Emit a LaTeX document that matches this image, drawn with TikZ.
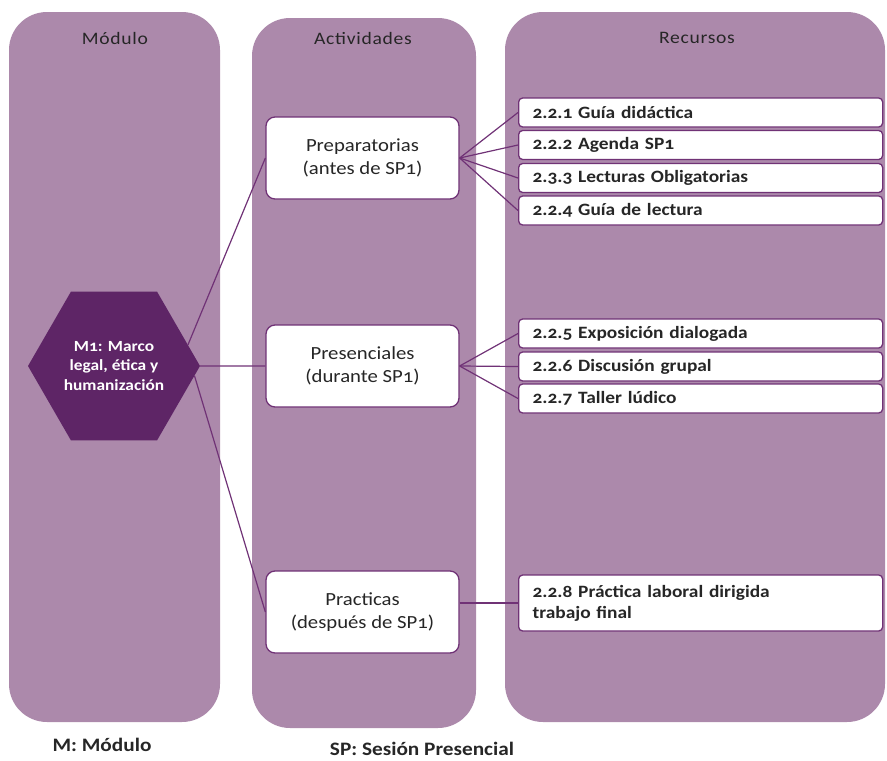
\documentclass[tikz,border=0pt]{standalone}
\usepackage{fontspec}
\setmainfont{Carlito}[Numbers=OldStyle, FakeStretch=1.12]
\usetikzlibrary{shapes.geometric}
\definecolor{colfill}{RGB}{172,137,171}
\definecolor{hexfill}{RGB}{94,37,102}
\definecolor{edgecol}{RGB}{112,50,118}
\tikzset{
  colbox/.style={fill=colfill, draw=none, rounded corners=38pt, inner sep=0pt},
  hdr/.style={font=\fontsize{17.5}{20}\selectfont\addfontfeature{LetterSpace=4}, text=black!85},
  actbox/.style={draw=edgecol, line width=1.3pt, fill=white, rounded corners=9pt,
    minimum width=193pt, minimum height=82pt, align=center, inner sep=2pt,
    font=\fontsize{18.5}{23}\selectfont, text=black!85},
  resbox/.style={draw=edgecol, line width=1.3pt, fill=white, rounded corners=4pt,
    anchor=west, minimum height=29pt, text width=336pt, inner xsep=14pt, inner ysep=2pt,
    align=left, font=\bfseries\fontsize{17.3}{21}\selectfont, text=black!85},
  hexnode/.style={regular polygon, regular polygon sides=6, minimum size=172pt,
    fill=hexfill, text=white, align=center, inner sep=0pt,
    font=\bfseries\fontsize{15.5}{19.5}\selectfont},
  conn/.style={draw=edgecol, line width=1.2pt},
  foot/.style={font=\bfseries\fontsize{19}{22}\selectfont, text=black!85}
}
\begin{document}
\begin{tikzpicture}[x=1pt,y=-1pt]
\path[use as bounding box] (0,0) rectangle (887,761);
% columns
\node[colbox, minimum width=211pt, minimum height=710pt] (c1) at (114.5,367) {};
\node[colbox, minimum width=224pt, minimum height=710pt] (c2) at (364,373) {};
\node[colbox, minimum width=380pt, minimum height=710pt] (c3) at (695,367) {};
% headers
\node[hdr] (h1) at (115,38) {Módulo};
\node[hdr] (h2) at (363,38) {Actividades};
\node[hdr] (h3) at (697,38) {Recursos};
% hexagon
\node[hexnode] (hex) at (114,366) {M1: Marco\\legal, ética y\\humanización};
% activities
\node[actbox] (prep) at (362.5,158) {Preparatorias\\(antes de SP1)};
\node[actbox] (pres) at (362.5,366) {Presenciales\\(durante SP1)};
\node[actbox] (prac) at (362.5,612) {Practicas\\(después de SP1)};
% resources
\node[resbox] (r1) at (518,112.5) {2.2.1 Guía didáctica};
\node[resbox] (r2) at (518,145) {2.2.2 Agenda SP1};
\node[resbox] (r3) at (518,178) {2.3.3 Lecturas Obligatorias};
\node[resbox] (r4) at (518,210.5) {2.2.4 Guía de lectura};
\node[resbox] (r5) at (518,333.5) {2.2.5 Exposición dialogada};
\node[resbox] (r6) at (518,366.5) {2.2.6 Discusión grupal};
\node[resbox] (r7) at (518,398.5) {2.2.7 Taller lúdico};
\node[resbox, minimum height=56pt] (r8) at (518,603) {2.2.8 Práctica laboral dirigida\\trabajo final};
% connectors
\draw[conn] (hex.16) -- (prep.west);
\draw[conn] (hex.east) -- (pres.west);
\draw[conn] (hex.-7) -- (prac.west);
\foreach \r in {r1,r2,r3,r4} \draw[conn] (prep.east) -- (\r.west);
\foreach \r in {r5,r6,r7} \draw[conn] (pres.east) -- (\r.west);
\draw[conn] (prac.east |- r8.west) -- (r8.west);
% footers
\node[foot] (f1) at (102,745) {M: Módulo};
\node[foot] (f2) at (422,749) {SP: Sesión Presencial};
\end{tikzpicture}
\end{document}
